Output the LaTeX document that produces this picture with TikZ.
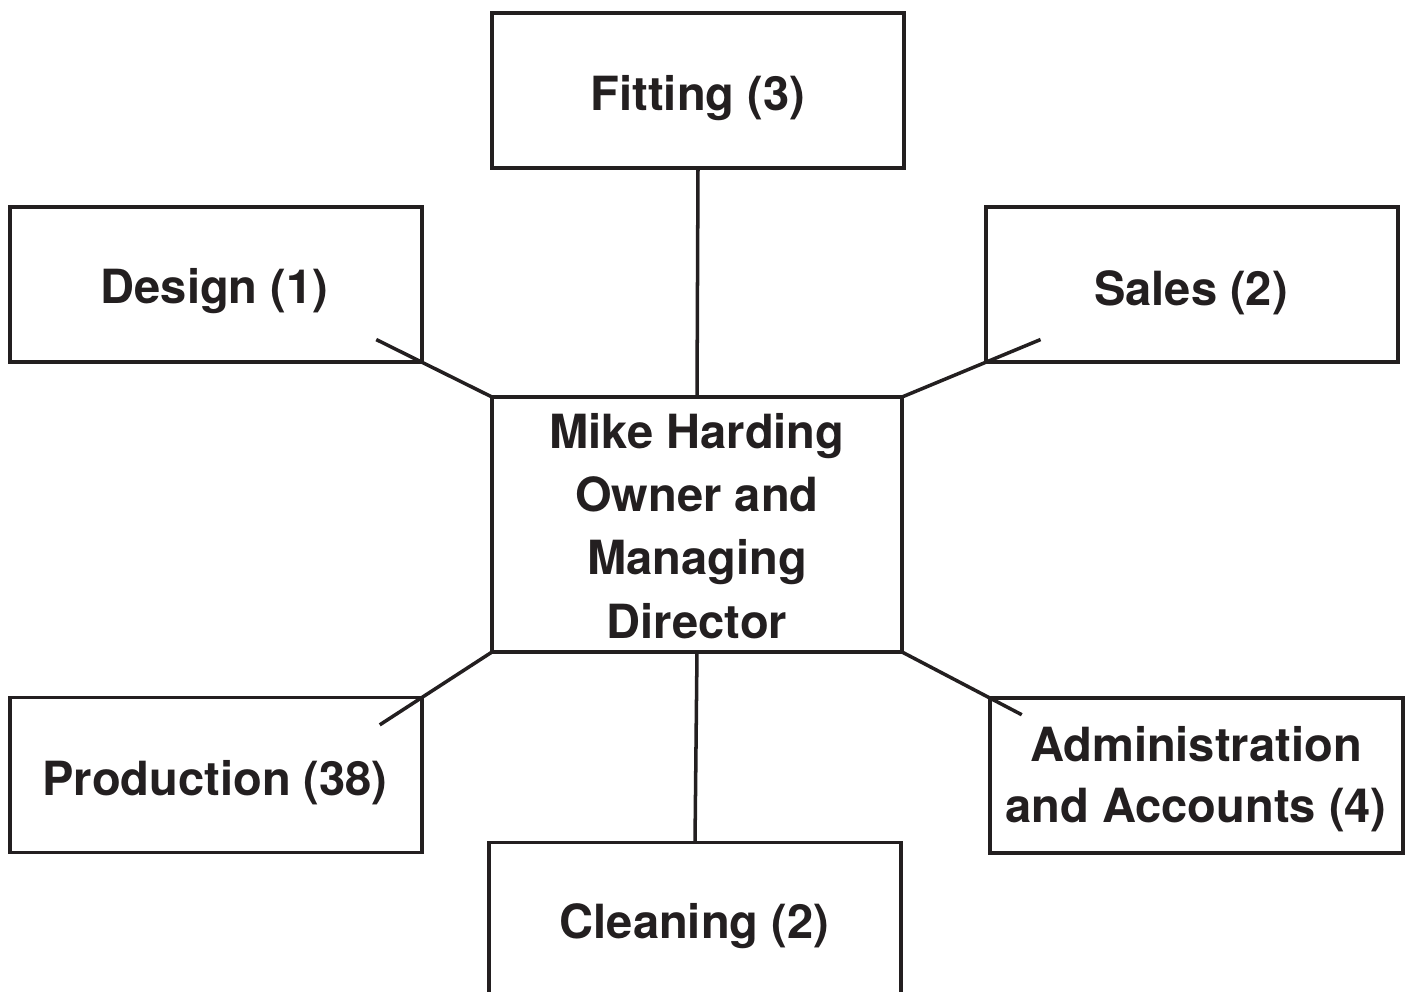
\documentclass[tikz,border=0pt]{standalone}
\usepackage{fontspec}
\setmainfont{TeX Gyre Heros}
\usetikzlibrary{calc}
\definecolor{ink}{HTML}{231F20}
\begin{document}
\begin{tikzpicture}[x=0.02cm,y=-0.02cm,
  unit/.style={draw=ink, line width=2pt, rectangle, outer sep=0pt, inner sep=0pt,
               minimum width=8.24cm, minimum height=3.1cm},
  caption/.style={inner sep=0pt, align=center, text=ink,
                  font=\fontsize{26.8}{36}\selectfont\bfseries},
  link/.style={draw=ink, line width=2pt}]
\useasboundingbox (0,0) rectangle (1407,991);

% department boxes
\node[unit] (fitting)    at (698,90.5)   {};
\node[unit] (design)     at (215.9,284.7) {};
\node[unit] (sales)      at (1191.9,284.7) {};
\node[unit, minimum width=8.2cm, minimum height=5.1cm] (owner) at (697,524.5) {};
\node[unit] (production) at (215.9,775)  {};
\node[unit, minimum width=8.26cm] (admin) at (1196.5,775.6) {};
\node[unit, minimum height=3.5cm] (cleaning) at (695,930) {};

% box texts
\node[caption, anchor=base] (tfitting)    at (698,110)     {Fitting (3)};
\node[caption, anchor=base] (tdesign)     at (214.5,303)   {Design (1)};
\node[caption, anchor=base] (tsales)      at (1191,305)    {Sales (2)};
\node[caption, anchor=north] (towner)     at (697,413)     {Mike Harding\\Owner and\\Managing\\Director};
\node[caption, anchor=base] (tproduction) at (215,795)     {Production (38)};
\node[caption, anchor=north, font=\fontsize{26.8}{35}\selectfont\bfseries] (tadmin) at (1196,726) {Administration\\and Accounts (4)};
\node[caption, anchor=base] (tcleaning)   at (694.5,938)   {Cleaning (2)};

% free ends of the diagonal connectors, running on past the box corners
\coordinate (dEnd) at ($(owner.north west)!1.65!(design.south east)$);
\coordinate (sEnd) at ($(owner.north east)!1.65!(sales.south west)$);
\coordinate (pEnd) at ($(owner.south west)!1.6!(production.north east)$);
\coordinate (aEnd) at ($(owner.south east)!1.36!(admin.north west)$);

% connectors
\draw[link] (fitting.south) -- (owner.north);
\draw[link] (owner.south) -- (cleaning.north);
\draw[link] (owner.north west) -- (dEnd);
\draw[link] (owner.north east) -- (sEnd);
\draw[link] (owner.south west) -- (pEnd);
\draw[link] (owner.south east) -- (aEnd);
\end{tikzpicture}
\end{document}
